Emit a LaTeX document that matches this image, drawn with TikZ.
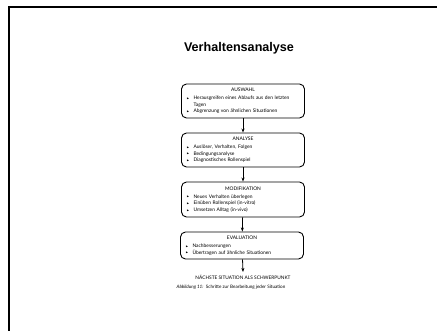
\documentclass[tikz,border=0pt]{standalone}
\usepackage{amssymb}
\usepackage{fontspec}
\setmainfont{Lato}
\newfontfamily\titlefont{Liberation Sans}
\usetikzlibrary{arrows.meta}
\newcommand{\bitem}[1]{\par\hangindent=7pt\hangafter=1\noindent\makebox[7pt][l]{\raisebox{0.3pt}{\scalebox{0.55}{$\blacktriangleright$}}}#1}
\newcommand{\bhead}[1]{{\centering #1\par}\vspace{1.2pt}}
\tikzset{
  stepbox/.style={draw, line width=0.9pt, rounded corners=5pt, minimum width=123pt,
    text width=113pt, inner xsep=5pt, inner ysep=2pt, align=left,
    font=\fontsize{4.9}{6.7}\selectfont},
  flowarrow/.style={line width=0.8pt, -{Stealth[length=4pt,width=3pt]}},
  frameline/.style={line width=1.3pt}
}
\begin{document}
\begin{tikzpicture}[x=1pt,y=1pt,yscale=-1]
\useasboundingbox (0,0) rectangle (437,331);
\draw[frameline] (437,7) -- (9,7) -- (9,331);
\node[font=\titlefont\bfseries\fontsize{12.6}{14}\selectfont] (title) at (239,48) {Verhaltensanalyse};
\node[stepbox, minimum height=34pt] (b1) at (243,101) {\bhead{AUSWAHL}%
\bitem{Herausgreifen eines Ablaufs aus den letzten}\\\hspace*{7pt}Tagen%
\bitem{Abgrenzung von ähnlichen Situationen}};
\node[stepbox, minimum height=34pt] (b2) at (243,150) {\bhead{ANALYSE}%
\bitem{Auslöser, Verhalten, Folgen}%
\bitem{Bedingungsanalyse}%
\bitem{Diagnostisches Rollenspiel}};
\node[stepbox, minimum height=35pt] (b3) at (243,199.5) {\bhead{MODIFIKATION}%
\bitem{Neues Verhalten überlegen}%
\bitem{Einüben Rollenspiel (in-vitro)}%
\bitem{Umsetzen Alltag (in-vivo)}};
\node[stepbox, minimum height=27pt] (b4) at (242,245.5) {\bhead{EVALUATION}%
\bitem{Nachbesserungen}%
\bitem{Übertragen auf ähnliche Situationen}};
\coordinate (end) at (243,272);
\node[font=\fontsize{4.8}{5.5}\selectfont] (next) at (243,277.5) {NÄCHSTE SITUATION ALS SCHWERPUNKT};
\node[font=\fontsize{4.6}{5.5}\selectfont] (cap) at (231,287.5) {\textit{Abbildung 11:}\ \ Schritte zur Bearbeitung jeder Situation};
\draw[flowarrow] (b1) -- (b2);
\draw[flowarrow] (b2) -- (b3);
\draw[flowarrow] (b3) -- (b4);
\draw[flowarrow] (b4) -- (end);
\end{tikzpicture}
\end{document}
